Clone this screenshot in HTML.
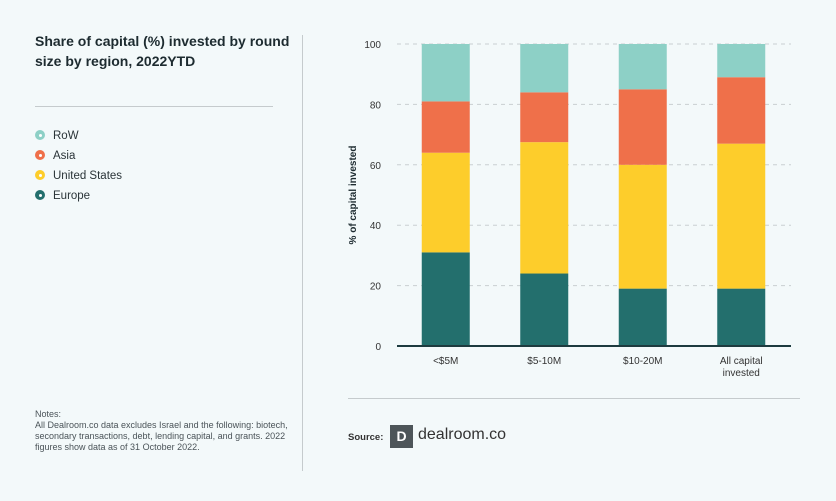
<!DOCTYPE html>
<html><head><meta charset="utf-8"><style>
body{margin:0;width:836px;height:501px;background:#f3f9fa;font-family:"Liberation Sans",sans-serif;position:relative;overflow:hidden;color:#1f2d33}
.abs{position:absolute}
.title{left:35px;top:31px;white-space:nowrap;font-size:14px;font-weight:bold;line-height:20px;color:#1d2b30}
.leg{left:35px;font-size:11.5px;color:#2a3438}
.dot{display:inline-block;width:10px;height:10px;border-radius:50%;vertical-align:-1px;margin-right:8px;position:relative}
.dot::after{content:"";position:absolute;left:3.5px;top:3.5px;width:3px;height:3px;border-radius:50%;background:#fff}
.notes{left:35px;top:409px;width:260px;font-size:9px;line-height:11px;color:#4a5358}
</style></head><body>
<div class="abs title">Share of capital (%) invested by round<br>size by region, 2022YTD</div>
<div class="abs" style="left:35px;top:106px;width:238px;height:1px;background:#c5cbcd"></div>
<div class="abs leg" style="top:130px"><span class="dot" style="background:#8dd0c6"></span>RoW</div>
<div class="abs leg" style="top:150px"><span class="dot" style="background:#ef704a"></span>Asia</div>
<div class="abs leg" style="top:170px"><span class="dot" style="background:#fdcd2b"></span>United States</div>
<div class="abs leg" style="top:190px"><span class="dot" style="background:#236f6d"></span>Europe</div>
<div class="abs notes">Notes:<br>All Dealroom.co data excludes Israel and the following: biotech, secondary transactions, debt, lending capital, and grants. 2022 figures show data as of 31 October 2022.</div>
<div class="abs" style="left:302px;top:35px;width:1px;height:436px;background:#c5cbcd"></div>
<div class="abs" style="left:348px;top:398px;width:452px;height:1px;background:#c5cbcd"></div>
<div class="abs" style="left:348px;top:432px;font-size:9.5px;font-weight:bold;color:#333">Source:</div>
<div class="abs" style="left:390px;top:425px;width:23px;height:23px;background:#4d5559;color:#fff;font-weight:bold;font-size:14px;text-align:center;line-height:23px">D</div>
<div class="abs" style="left:418px;top:426px;font-size:16px;color:#333">dealroom.co</div>
<svg id="chart" class="abs" style="left:0;top:0" width="836" height="501"></svg>
<script>
const categories=["<$5M","$5-10M","$10-20M","All capital|invested"];
const europe=[31,24,19,19];
const us=[33,43.5,41,48];
const asia=[17,16.5,25,22];
const row=[19,16,15,11];
const ticks=[0,20,40,60,80,100];
const series=[["europe",europe,"#236f6d"],["united-states",us,"#fdcd2b"],["asia",asia,"#ef704a"],["row",row,"#8dd0c6"]];
const NS="http://www.w3.org/2000/svg",svg=document.getElementById("chart");
const y0=346,y1=44,xl=397,xr=791;
const y=v=>y0-(v/100)*(y0-y1);
const band=(xr-xl)/categories.length;
const xc=i=>xl+band*(i+0.5)-0.5;
const bw=48;
function mk(t,a){const e=document.createElementNS(NS,t);for(const k in a)e.setAttribute(k,a[k]);svg.appendChild(e);return e;}
ticks.forEach(t=>{
 if(t>0){const l=mk("line",{x1:xl,x2:xr,y1:y(t),y2:y(t),stroke:"#c9cfd1","stroke-dasharray":"4,4","stroke-width":1});
 
 }
 const tx=mk("text",{x:381,y:y(t)+4,"text-anchor":"end","font-size":10,fill:"#333","font-family":"Liberation Sans, sans-serif"});
 tx.textContent=t;
 
 
});
categories.forEach((c,i)=>{
 let acc=0;
 series.forEach(([n,arr,col])=>{
  const v=arr[i];
  const r=mk("rect",{x:xc(i)-bw/2,y:y(acc+v),width:bw,height:y(acc)-y(acc+v),fill:col});
  
  
  acc+=v;
 });
 c.split("|").forEach((s,j)=>{
  const tx=mk("text",{x:xc(i),y:364+j*12,"text-anchor":"middle","font-size":10,fill:"#333","font-family":"Liberation Sans, sans-serif"});
  tx.textContent=s;
  
  
 });
});
const ax=mk("line",{x1:xl,x2:xr,y1:y0,y2:y0,stroke:"#1d3b3f","stroke-width":2});


const yt=mk("text",{x:0,y:0,transform:"translate(356,195) rotate(-90)","text-anchor":"middle","font-size":10,"font-weight":"bold",fill:"#1d2b30","font-family":"Liberation Sans, sans-serif"});
yt.textContent="% of capital invested";


</script>
</body></html>
